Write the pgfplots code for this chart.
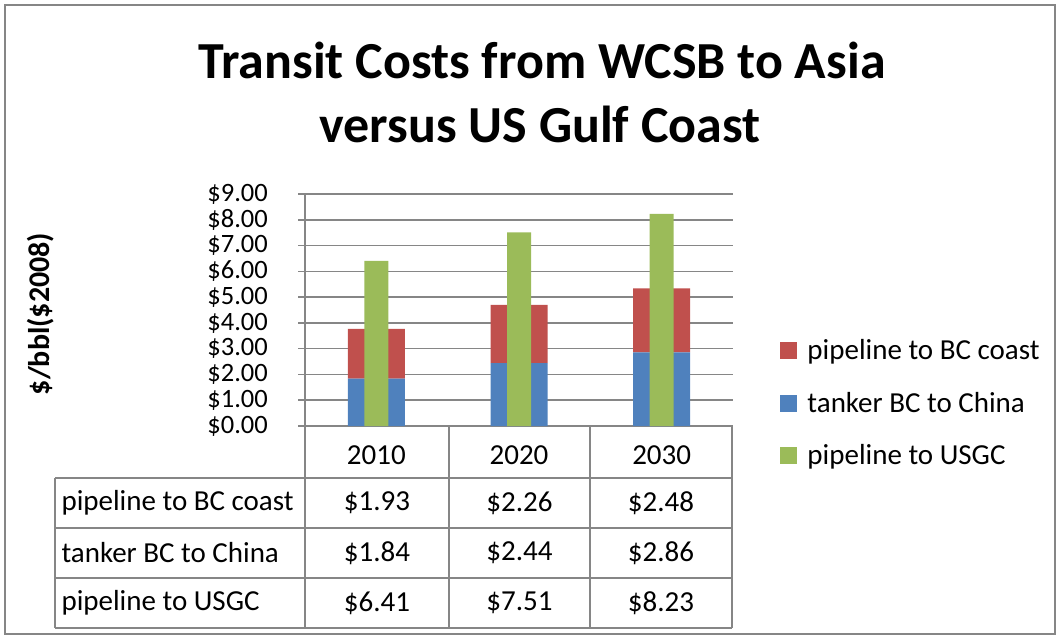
\documentclass[border=0pt]{standalone}
\usepackage{pgfplots}
\pgfplotsset{compat=1.18}
\usepackage{fontspec}
\setmainfont{Carlito}
\definecolor{cblue}{HTML}{4F81BD}
\definecolor{cred}{HTML}{C0504D}
\definecolor{cgreen}{HTML}{9BBB59}
\definecolor{cgrid}{HTML}{868686}
\newcommand{\tf}{\fontsize{29}{35}\selectfont}
\begin{document}
\begin{tikzpicture}[x=1pt,y=1pt]
\path[use as bounding box] (0,0) rectangle (1059,-638);
\draw[cgrid, line width=1.5pt] (5,-5) rectangle (1055,-634);
% title
\node[font=\bfseries\fontsize{52}{62}\selectfont, anchor=base] at (542,-78) {Transit Costs from WCSB to Asia};
\node[font=\bfseries\fontsize{52}{62}\selectfont, anchor=base] at (540,-142) {versus US Gulf Coast};
% y label
\node[rotate=90, font=\bfseries\fontsize{30}{36}\selectfont] at (41,-314) {\$/bbl(\$2008)};
\begin{axis}[
  at={(305pt,-426pt)}, anchor=south west,
  scale only axis, width=428pt, height=232pt,
  xmin=-0.5, xmax=2.5, ymin=0, ymax=9,
  ybar stacked, bar width=57pt,
  axis lines*=left, axis line style={cgrid, line width=1.5pt, -},
  ytick={0,1,2,3,4,5,6,7,8,9},
  yticklabels={\$0.00,\$1.00,\$2.00,\$3.00,\$4.00,\$5.00,\$6.00,\$7.00,\$8.00,\$9.00},
  tick align=outside, major tick length=7pt,
  ytick style={cgrid, line width=1.5pt},
  y tick label style={xshift=-30pt, inner sep=0pt, font=\fontsize{26.5}{28}\selectfont},
  xtick={0,1,2}, xticklabels={2010,2020,2030},
  xtick style={draw=none},
  x tick label style={anchor=center, yshift=-22pt, font=\tf},
  ymajorgrids, grid style={cgrid, line width=1.5pt},
]
\addplot[fill=cblue, draw=none] coordinates {(0,1.84) (1,2.44) (2,2.86)};
\addplot[fill=cred, draw=none] coordinates {(0,1.93) (1,2.26) (2,2.48)};
\end{axis}
\begin{axis}[
  at={(305pt,-426pt)}, anchor=south west,
  scale only axis, width=428pt, height=232pt,
  xmin=-0.5, xmax=2.5, ymin=0, ymax=9,
  hide axis,
  legend style={at={(1.11,0.099)}, anchor=west, draw=none, fill=none,
    font=\tf, row sep=27pt, inner sep=0pt, nodes={inner sep=2pt}},
  legend cell align=left,
]
\addlegendimage{legend image code/.code={\fill[cred] (0pt,-8pt) rectangle (16pt,8pt); \path[draw=none] (0pt,0pt) -- (25pt,0pt);}}
\addlegendentry{pipeline to BC coast}
\addlegendimage{legend image code/.code={\fill[cblue] (0pt,-8pt) rectangle (16pt,8pt); \path[draw=none] (0pt,0pt) -- (25pt,0pt);}}
\addlegendentry{tanker BC to China}
\addlegendimage{legend image code/.code={\fill[cgreen] (0pt,-8pt) rectangle (16pt,8pt); \path[draw=none] (0pt,0pt) -- (25pt,0pt);}}
\addlegendentry{pipeline to USGC}
\addplot[ybar, bar width=24pt, fill=cgreen, draw=none, forget plot] coordinates {(0,6.41) (1,7.51) (2,8.23)};
\end{axis}
% data table
\begin{scope}[cgrid, line width=1.5pt]
\draw (305,-426) -- (305,-628);
\draw (449,-426) -- (449,-628);
\draw (590,-426) -- (590,-628);
\draw (732,-426) -- (732,-628);
\draw (55,-478) -- (732,-478);
\draw (55,-528) -- (732,-528);
\draw (55,-578) -- (732,-578);
\draw (55,-628) -- (732,-628);
\draw (55,-478) -- (55,-628);
\end{scope}
\begin{scope}[font=\tf]
\node[anchor=west] at (58,-503) {pipeline to BC coast};
\node[anchor=west] at (58,-553) {tanker BC to China};
\node[anchor=west] at (58,-603) {pipeline to USGC};
\node at (377,-503) {\$1.93}; \node at (519.5,-503) {\$2.26}; \node at (661,-503) {\$2.48};
\node at (377,-553) {\$1.84}; \node at (519.5,-553) {\$2.44}; \node at (661,-553) {\$2.86};
\node at (377,-603) {\$6.41}; \node at (519.5,-603) {\$7.51}; \node at (661,-603) {\$8.23};
\end{scope}
\end{tikzpicture}
\end{document}
